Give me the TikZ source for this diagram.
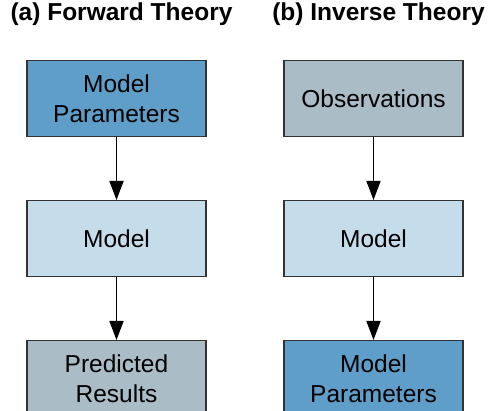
\documentclass[tikz,border=0pt]{standalone}
\usepackage{fontspec}
\setmainfont{Liberation Sans}
\usetikzlibrary{arrows.meta}
\definecolor{dblue}{HTML}{5E9EC8}
\definecolor{lblue}{HTML}{C5DDEB}
\definecolor{lgray}{HTML}{AABCC6}
\definecolor{edge}{HTML}{333333}
\begin{document}
\begin{tikzpicture}[x=1pt,y=-1pt,
  box/.style={draw=edge,line width=1.3pt,minimum width=179pt,minimum height=76pt,inner sep=0pt,align=center,font=\fontsize{24.5}{30}\selectfont,anchor=north},
  title/.style={font=\fontsize{24.5}{28}\selectfont\bfseries,anchor=base},
  conn/.style={draw=black,line width=1.5pt,-{Triangle[length=19pt,width=14pt]}}]
\useasboundingbox (0,0) rectangle (488,411);
\clip (0,0) rectangle (488,411);
\node[title] (ta) at (121.5,21) {(a) Forward Theory};
\node[title] (tb) at (378.5,21) {(b) Inverse Theory};
\node[box,fill=dblue] (a1) at (116.5,60) {Model\\Parameters};
\node[box,fill=lblue] (a2) at (116.5,200) {Model};
\node[box,fill=lgray] (a3) at (116.5,340) {Predicted\\Results};
\node[box,fill=lgray] (b1) at (373.5,60) {Observations};
\node[box,fill=lblue] (b2) at (373.5,200) {Model};
\node[box,fill=dblue] (b3) at (373.5,340) {Model\\Parameters};
\draw[conn] (a1) -- (a2);
\draw[conn] (a2) -- (a3);
\draw[conn] (b1) -- (b2);
\draw[conn] (b2) -- (b3);
\end{tikzpicture}
\end{document}
